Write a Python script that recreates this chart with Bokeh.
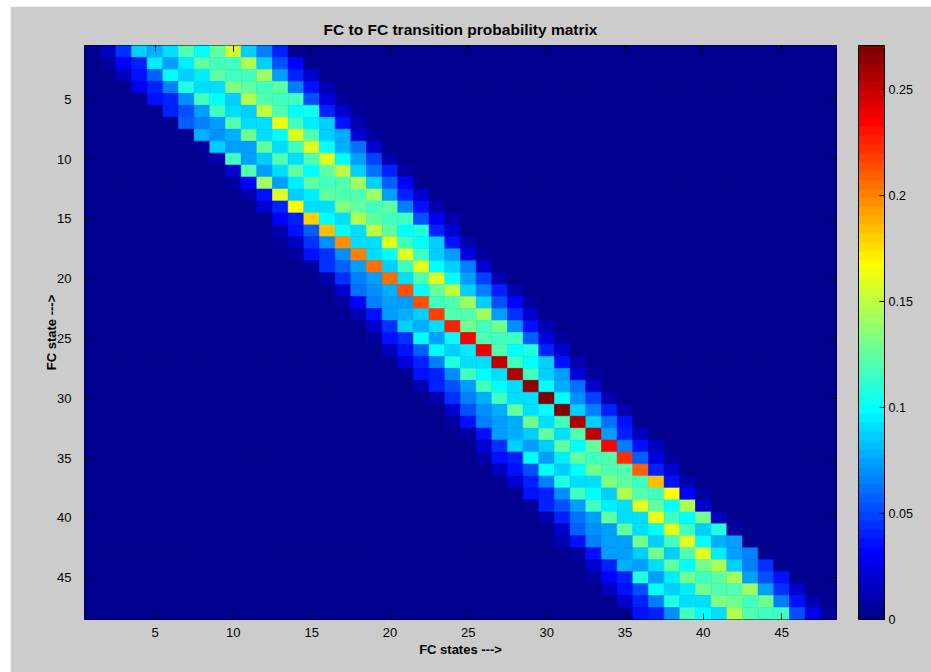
from bokeh.plotting import figure
from bokeh.models import (LinearColorMapper, ColorBar, FixedTicker, LinearAxis,
                          Range1d, ColumnDataSource, Spacer)
from bokeh.layouts import row, column
from bokeh.transform import transform
from bokeh.embed import file_html
from bokeh.resources import INLINE

# ---------------- data ----------------
n_states = 48
axis_ticks = [5, 10, 15, 20, 25, 30, 35, 40, 45]
cbar_ticks = [0, 0.05, 0.1, 0.15, 0.2, 0.25]
cbar_labels = ["0", "0.05", "0.1", "0.15", "0.2", "0.25"]

# first non-zero column of each row (1-based) and the band values from there on
band_start = [2, 2, 3, 4, 5, 6, 7, 8, 8, 9, 10, 10, 11, 12, 12, 13,
              13, 14, 15, 16, 17, 17, 18, 19, 19, 20, 20, 21, 22, 23, 24, 24,
              25, 26, 26, 27, 28, 29, 29, 30, 31, 31, 32, 33, 33, 34, 35, 36]

band_values = [
    [0.015, 0.045, 0.085, 0.08, 0.09, 0.12, 0.1, 0.125, 0.155, 0.087, 0.065, 0.04, 0.003],
    [0.007, 0.03, 0.04, 0.097, 0.075, 0.095, 0.125, 0.115, 0.118, 0.145, 0.085, 0.055, 0.03],
    [0.015, 0.034, 0.058, 0.1, 0.087, 0.095, 0.125, 0.118, 0.118, 0.14, 0.072, 0.04, 0.02],
    [0.028, 0.04, 0.065, 0.108, 0.092, 0.092, 0.135, 0.125, 0.118, 0.125, 0.065, 0.034, 0.012],
    [0.036, 0.04, 0.068, 0.115, 0.098, 0.088, 0.145, 0.12, 0.115, 0.115, 0.055, 0.022, 0.008],
    [0.04, 0.055, 0.072, 0.115, 0.092, 0.088, 0.152, 0.12, 0.1, 0.105, 0.04, 0.02, 0.005],
    [0.058, 0.065, 0.075, 0.12, 0.092, 0.092, 0.163, 0.118, 0.095, 0.087, 0.034, 0.012],
    [0.08, 0.068, 0.08, 0.128, 0.092, 0.1, 0.16, 0.12, 0.087, 0.08, 0.02, 0.005],
    [0.006, 0.087, 0.075, 0.075, 0.125, 0.092, 0.118, 0.157, 0.1, 0.08, 0.062, 0.02],
    [0.009, 0.115, 0.075, 0.085, 0.12, 0.092, 0.12, 0.157, 0.1, 0.072, 0.05, 0.012],
    [0.02, 0.12, 0.075, 0.092, 0.125, 0.1, 0.125, 0.152, 0.087, 0.062, 0.04, 0.005],
    [0.005, 0.032, 0.14, 0.075, 0.097, 0.125, 0.115, 0.12, 0.142, 0.085, 0.058, 0.03],
    [0.012, 0.034, 0.157, 0.087, 0.097, 0.125, 0.12, 0.12, 0.14, 0.072, 0.04, 0.02],
    [0.02, 0.04, 0.166, 0.092, 0.092, 0.135, 0.125, 0.115, 0.125, 0.065, 0.034, 0.012],
    [0.004, 0.032, 0.04, 0.178, 0.098, 0.092, 0.145, 0.125, 0.118, 0.118, 0.055, 0.028, 0.01],
    [0.012, 0.034, 0.058, 0.186, 0.1, 0.092, 0.152, 0.125, 0.1, 0.11, 0.04, 0.02],
    [0.005, 0.015, 0.045, 0.068, 0.196, 0.092, 0.092, 0.16, 0.118, 0.098, 0.087, 0.034, 0.009],
    [0.005, 0.034, 0.045, 0.07, 0.2, 0.092, 0.1, 0.157, 0.118, 0.087, 0.075, 0.022, 0.006],
    [0.006, 0.045, 0.058, 0.075, 0.206, 0.087, 0.118, 0.157, 0.1, 0.085, 0.065, 0.02],
    [0.009, 0.045, 0.065, 0.075, 0.206, 0.092, 0.12, 0.157, 0.1, 0.072, 0.05, 0.009],
    [0.02, 0.062, 0.07, 0.08, 0.215, 0.1, 0.125, 0.152, 0.087, 0.065, 0.04, 0.009],
    [0.006, 0.032, 0.065, 0.075, 0.075, 0.215, 0.118, 0.12, 0.142, 0.085, 0.055, 0.032, 0.006],
    [0.01, 0.034, 0.075, 0.08, 0.087, 0.219, 0.12, 0.12, 0.14, 0.072, 0.045, 0.02, 0.004],
    [0.02, 0.045, 0.085, 0.08, 0.092, 0.225, 0.128, 0.115, 0.128, 0.068, 0.034, 0.012],
    [0.006, 0.034, 0.045, 0.098, 0.075, 0.098, 0.233, 0.12, 0.118, 0.118, 0.058, 0.022, 0.006],
    [0.015, 0.034, 0.058, 0.1, 0.087, 0.095, 0.24, 0.12, 0.1, 0.108, 0.04, 0.018],
    [0.004, 0.022, 0.04, 0.065, 0.108, 0.092, 0.092, 0.25, 0.118, 0.098, 0.087, 0.034, 0.009],
    [0.003, 0.034, 0.04, 0.068, 0.115, 0.098, 0.092, 0.256, 0.118, 0.087, 0.075, 0.022, 0.006],
    [0.012, 0.04, 0.055, 0.072, 0.118, 0.098, 0.092, 0.266, 0.1, 0.08, 0.062, 0.02],
    [0.012, 0.045, 0.065, 0.08, 0.118, 0.092, 0.092, 0.271, 0.1, 0.07, 0.05, 0.012],
    [0.02, 0.055, 0.068, 0.08, 0.125, 0.092, 0.1, 0.27, 0.087, 0.065, 0.04, 0.012],
    [0.006, 0.034, 0.065, 0.075, 0.08, 0.128, 0.092, 0.115, 0.255, 0.085, 0.062, 0.034],
    [0.006, 0.034, 0.075, 0.08, 0.087, 0.125, 0.092, 0.12, 0.25, 0.072, 0.04, 0.015],
    [0.02, 0.045, 0.085, 0.075, 0.087, 0.125, 0.1, 0.125, 0.236, 0.065, 0.036, 0.015],
    [0.009, 0.034, 0.04, 0.098, 0.075, 0.095, 0.125, 0.115, 0.12, 0.222, 0.058, 0.022, 0.006],
    [0.015, 0.034, 0.055, 0.1, 0.085, 0.098, 0.128, 0.12, 0.12, 0.208, 0.04, 0.02],
    [0.02, 0.04, 0.065, 0.108, 0.092, 0.092, 0.135, 0.125, 0.118, 0.186, 0.034, 0.012],
    [0.034, 0.04, 0.068, 0.115, 0.098, 0.087, 0.145, 0.12, 0.118, 0.168, 0.032, 0.006],
    [0.006, 0.04, 0.055, 0.072, 0.118, 0.095, 0.092, 0.157, 0.125, 0.1, 0.145, 0.02],
    [0.012, 0.04, 0.062, 0.075, 0.125, 0.092, 0.092, 0.163, 0.118, 0.098, 0.128, 0.015],
    [0.02, 0.058, 0.07, 0.075, 0.125, 0.092, 0.1, 0.157, 0.118, 0.087, 0.11, 0.006],
    [0.009, 0.036, 0.065, 0.075, 0.075, 0.13, 0.087, 0.118, 0.157, 0.1, 0.08, 0.075],
    [0.006, 0.034, 0.075, 0.075, 0.085, 0.128, 0.087, 0.12, 0.157, 0.095, 0.072, 0.065],
    [0.02, 0.04, 0.08, 0.075, 0.092, 0.125, 0.1, 0.128, 0.148, 0.087, 0.065, 0.045],
    [0.006, 0.032, 0.04, 0.108, 0.075, 0.095, 0.128, 0.118, 0.125, 0.142, 0.072, 0.055, 0.034],
    [0.015, 0.034, 0.055, 0.1, 0.087, 0.095, 0.128, 0.12, 0.12, 0.14, 0.072, 0.045, 0.02],
    [0.02, 0.04, 0.065, 0.11, 0.092, 0.092, 0.135, 0.128, 0.118, 0.128, 0.065, 0.034, 0.012],
    [0.034, 0.04, 0.068, 0.115, 0.098, 0.092, 0.145, 0.12, 0.118, 0.118, 0.055, 0.028, 0.008],
]

# ---------------- colormap (MATLAB jet, 64 levels) ----------------
def jet64():
    cols = []
    for i in range(1, 65):
        if i <= 8:
            r, g, b = 0, 0, 0.5 + i / 16
        elif i <= 24:
            r, g, b = 0, (i - 8) / 16, 1
        elif i <= 40:
            r, g, b = (i - 24) / 16, 1, 1 - (i - 24) / 16
        elif i <= 56:
            r, g, b = 1, 1 - (i - 40) / 16, 0
        else:
            r, g, b = 1 - (i - 56) / 16, 0, 0
        cols.append("#%02x%02x%02x" % (round(r * 255), round(g * 255), round(b * 255)))
    return cols

# ---------------- build cell table ----------------
xs, ys, vs = [], [], []
for r in range(1, n_states + 1):
    s = band_start[r - 1]
    vals = band_values[r - 1]
    for c in range(1, n_states + 1):
        k = c - s
        v = vals[k] if 0 <= k < len(vals) else 0.0
        xs.append(c)
        ys.append(r)
        vs.append(v)
src = ColumnDataSource(dict(x=xs, y=ys, v=vs))
vmax = max(vs)

mapper = LinearColorMapper(palette=jet64(), low=0, high=vmax)

GRAY = "#cccccc"
FONT = "Liberation Sans"

p = figure(width=921, height=666,
           x_range=Range1d(0.5, n_states + 0.5),
           y_range=Range1d(n_states + 0.5, 0.5),
           output_backend="svg", toolbar_location=None,
           min_border_left=74, min_border_right=95,
           min_border_top=39, min_border_bottom=53,
           title="FC to FC transition probability matrix")

p.border_fill_color = GRAY
p.background_fill_color = "#00008f"
p.outline_line_color = "black"
p.outline_line_width = 1
p.grid.visible = False

p.title.align = "center"
p.title.text_font = FONT
p.title.text_font_size = "15.5px"
p.title.text_font_style = "bold"
p.title.text_color = "black"
p.title.standoff = 16

p.rect(x="x", y="y", width=1, height=1, source=src,
       fill_color=transform("v", mapper),
       line_color=transform("v", mapper), line_width=0.6)

for ax in (p.xaxis[0], p.yaxis[0]):
    ax.ticker = FixedTicker(ticks=axis_ticks)
    ax.major_tick_in = 6
    ax.major_tick_out = 0
    ax.minor_tick_line_color = None
    ax.axis_line_color = None
    ax.major_tick_line_color = "black"
    ax.major_label_text_font = FONT
    ax.major_label_text_font_size = "13px"
    ax.major_label_text_color = "black"
    ax.axis_label_text_font = FONT
    ax.axis_label_text_font_size = "13px"
    ax.axis_label_text_font_style = "bold"
    ax.axis_label_text_color = "black"

p.xaxis.axis_label = "FC states --->"
p.yaxis.axis_label = "FC state --->"
p.xaxis.major_label_standoff = 8
p.xaxis.axis_label_standoff = 2
p.yaxis.major_label_standoff = 13
p.yaxis.axis_label_standoff = -5

for side in ("above", "right"):
    ax = LinearAxis(ticker=FixedTicker(ticks=axis_ticks))
    ax.major_tick_in = 6
    ax.major_tick_out = 0
    ax.minor_tick_line_color = None
    ax.axis_line_color = None
    ax.major_tick_line_color = "black"
    ax.major_label_text_font_size = "1px"
    ax.major_label_text_color = None
    ax.major_label_standoff = 0
    p.add_layout(ax, side)

cb = ColorBar(color_mapper=mapper,
              ticker=FixedTicker(ticks=cbar_ticks),
              major_label_overrides={t: l for t, l in zip(cbar_ticks, cbar_labels)},
              width=26, padding=0, margin=0, location=(22, 0),
              bar_line_color="black", bar_line_width=1,
              major_tick_line_color="black", major_tick_in=5, major_tick_out=0,
              minor_tick_line_color=None,
              label_standoff=4,
              major_label_text_font=FONT, major_label_text_font_size="12.5px",
              major_label_text_color="black",
              background_fill_alpha=0, border_line_color=None)
p.add_layout(cb, "right")

layout = row(Spacer(width=10, height=672),
             column(Spacer(width=921, height=6), p))

open("out.html", "w").write(file_html(layout, INLINE))
